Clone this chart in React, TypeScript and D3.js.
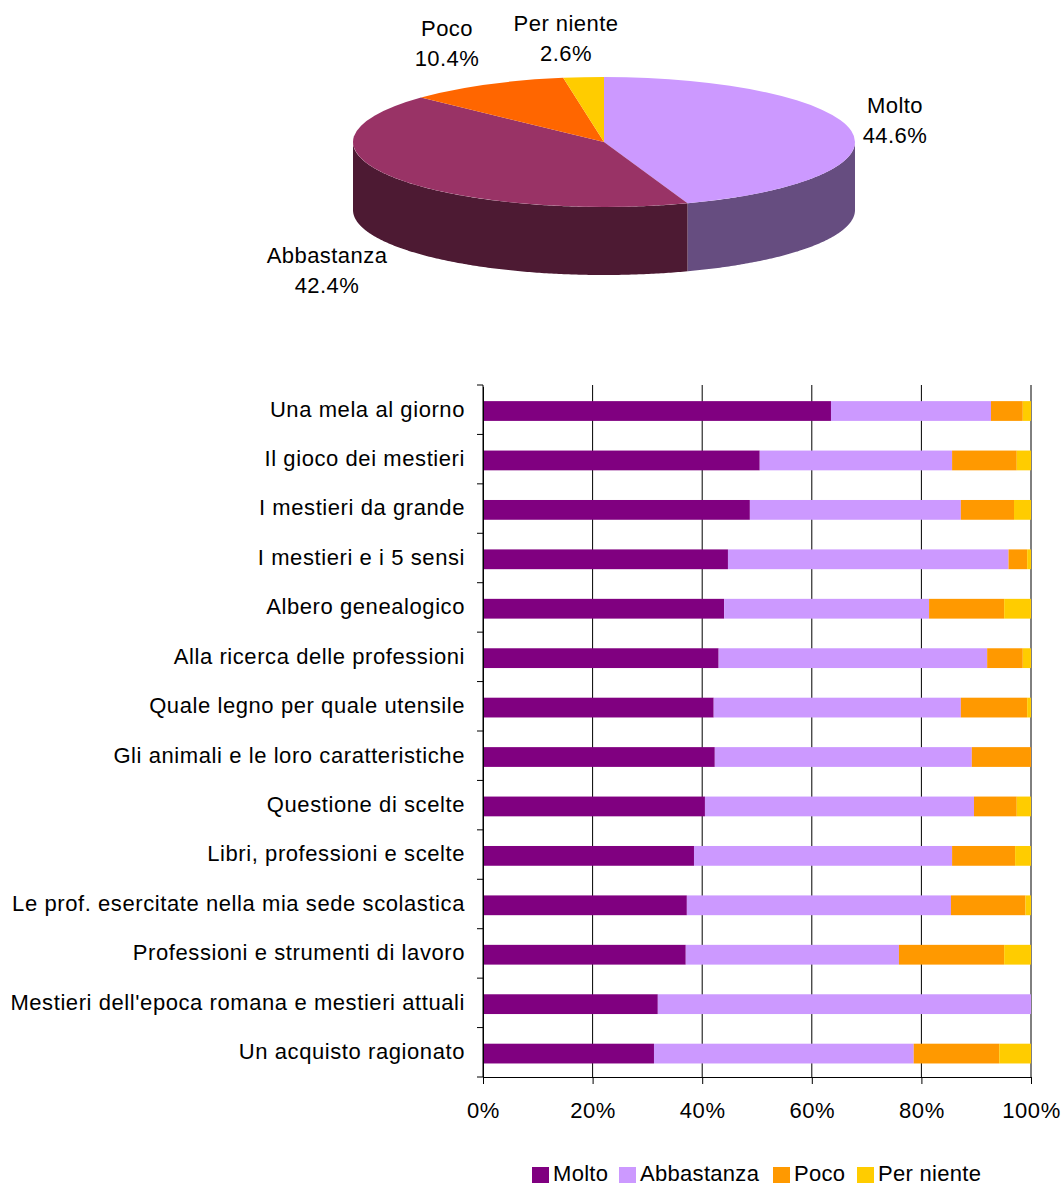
import React, { useEffect, useRef } from "react";
import * as d3 from "d3";

const categories = [
  "Una mela al giorno",
  "Il gioco dei mestieri",
  "I mestieri da grande",
  "I mestieri e i 5 sensi",
  "Albero genealogico",
  "Alla ricerca delle professioni",
  "Quale legno per quale utensile",
  "Gli animali e le loro caratteristiche",
  "Questione di scelte",
  "Libri, professioni e scelte",
  "Le prof. esercitate nella mia sede scolastica",
  "Professioni e strumenti di lavoro",
  "Mestieri dell'epoca romana e mestieri attuali",
  "Un acquisto ragionato",
];

const molto = [63.5, 50.5, 48.7, 44.7, 44.0, 43.0, 42.1, 42.3, 40.5, 38.5, 37.2, 37.0, 31.9, 31.2];
const abbastanza = [29.2, 35.1, 38.5, 51.2, 37.4, 49.0, 45.1, 46.9, 49.1, 47.1, 48.2, 38.9, 68.1, 47.4];
const poco = [5.8, 11.8, 9.7, 3.4, 13.7, 6.5, 12.1, 10.8, 7.8, 11.5, 13.6, 19.2, 0, 15.6];
const perNiente = [1.5, 2.6, 3.1, 0.7, 4.9, 1.5, 0.7, 0, 2.6, 2.9, 1.0, 4.9, 0, 5.8];

const seriesNames = ["Molto", "Abbastanza", "Poco", "Per niente"];
const seriesValues = [molto, abbastanza, poco, perNiente];
const barColors = ["#800080", "#CC99FF", "#FF9900", "#FFCC00"];

const pieValues = [44.6, 42.4, 10.4, 2.6];
const pieColors = ["#CC99FF", "#993366", "#FF6600", "#FFCC00"];
const pieWalls = ["#664D80", "#4D1A33", "#803300", "#806600"];

const xTicks = [0, 20, 40, 60, 80, 100];
const legendX = [532, 619, 773, 857];
const pieLabels = [
  { x: 895, y: 113 },
  { x: 327, y: 263 },
  { x: 447, y: 36 },
  { x: 566, y: 31 },
];

const FONT = "'Liberation Sans', Arial, sans-serif";
const FONT_SIZE = 22;

function App() {
  const ref = useRef<SVGSVGElement>(null);

  useEffect(() => {
    const svg = d3.select(ref.current);
    svg.selectAll("*").remove();

    // pie: flat d3 arcs squashed into an ellipse, plus a wall under the front half
    const cx = 604,
      cy = 142,
      rx = 251,
      ry = 65,
      depth = 68;
    const arcs = d3
      .pie<number>()
      .sort(null)
      .value((d) => d)(pieValues);

    const wall = d3
      .area<number>()
      .x((a) => cx + rx * Math.sin(a))
      .y0((a) => cy - ry * Math.cos(a))
      .y1((a) => cy - ry * Math.cos(a) + depth);

    arcs.forEach((a, i) => {
      const start = Math.max(a.startAngle, Math.PI / 2);
      const end = Math.min(a.endAngle, (3 * Math.PI) / 2);
      if (end <= start) return;
      svg
        .append("path")
        .attr("d", wall(d3.range(start, end, 0.01).concat(end)))
        .attr("fill", pieWalls[i]);
    });

    const arc = d3.arc<d3.PieArcDatum<number>>().innerRadius(0).outerRadius(rx);
    svg
      .append("g")
      .attr("transform", `translate(${cx},${cy}) scale(1,${ry / rx})`)
      .selectAll("path")
      .data(arcs)
      .enter()
      .append("path")
      .attr("d", arc)
      .attr("fill", (d, i) => pieColors[i]);

    const pieText = svg
      .append("g")
      .attr("font-family", FONT)
      .attr("font-size", FONT_SIZE)
      .attr("letter-spacing", 0.45)
      .attr("text-anchor", "middle")
      .attr("fill", "#000")
      .selectAll("g")
      .data(pieLabels)
      .enter()
      .append("g");
    pieText
      .append("text")
      .attr("x", (d) => d.x)
      .attr("y", (d) => d.y)
      .text((d, i) => seriesNames[i]);
    pieText
      .append("text")
      .attr("x", (d) => d.x)
      .attr("y", (d) => d.y + 30)
      .text((d, i) => pieValues[i].toFixed(1) + "%");

    // stacked bars
    const x = d3.scaleLinear().domain([0, 100]).range([483, 1031]);
    const y = d3.scaleBand().domain(categories).range([386.3, 1078.3]).paddingInner(0.6).paddingOuter(0.3);

    svg
      .append("g")
      .selectAll("line")
      .data(xTicks)
      .enter()
      .append("line")
      .attr("x1", (d) => x(d))
      .attr("x2", (d) => x(d))
      .attr("y1", 385)
      .attr("y2", 1077)
      .attr("stroke", "#000");

    seriesValues.forEach((vals, s) => {
      svg
        .append("g")
        .selectAll("rect")
        .data(vals)
        .enter()
        .append("rect")
        .attr("x", (d, i) => x(d3.sum(seriesValues.slice(0, s), (v) => v[i])))
        .attr("y", (d, i) => y(categories[i]))
        .attr("width", (d, i) => x(d) - x(0))
        .attr("height", y.bandwidth())
        .attr("fill", barColors[s]);
    });

    // axes
    const xAxis = svg
      .append("g")
      .attr("transform", "translate(0,1077)")
      .call(
        d3
          .axisBottom(x)
          .tickValues(xTicks)
          .tickSize(7)
          .tickSizeOuter(0)
          .tickPadding(18)
          .tickFormat((d) => d + "%")
      );
    xAxis
      .selectAll("text")
      .attr("font-family", FONT)
      .attr("font-size", FONT_SIZE)
      .attr("letter-spacing", 0.6)
      .attr("fill", "#000");

    const yAxis = svg
      .append("g")
      .attr("transform", "translate(483,0)")
      .call(d3.axisLeft(y).tickSize(0).tickPadding(18));
    yAxis
      .selectAll("text")
      .attr("font-family", FONT)
      .attr("font-size", FONT_SIZE)
      .attr("letter-spacing", 0.58)
      .attr("fill", "#000")
      .attr("dy", "0.25em");
    yAxis
      .selectAll("line.boundary")
      .data(d3.range(categories.length + 1))
      .enter()
      .append("line")
      .attr("class", "boundary")
      .attr("x1", -6)
      .attr("x2", 0)
      .attr("y1", (d) => 385 + d * y.step())
      .attr("y2", (d) => 385 + d * y.step())
      .attr("stroke", "#000");

    // legend
    const legend = svg
      .append("g")
      .selectAll("g")
      .data(seriesNames)
      .enter()
      .append("g")
      .attr("transform", (d, i) => `translate(${legendX[i]},1167)`);
    legend
      .append("rect")
      .attr("width", 17)
      .attr("height", 16)
      .attr("fill", (d, i) => barColors[i]);
    legend
      .append("text")
      .attr("x", 21)
      .attr("y", 14)
      .attr("font-family", FONT)
      .attr("font-size", FONT_SIZE)
      .attr("letter-spacing", 0.3)
      .attr("fill", "#000")
      .text((d) => d);
  }, []);

  return <svg ref={ref} width={1063} height={1183} style={{ position: "absolute", left: 0, top: 0, background: "#fff" }} />;
}

export default App;
